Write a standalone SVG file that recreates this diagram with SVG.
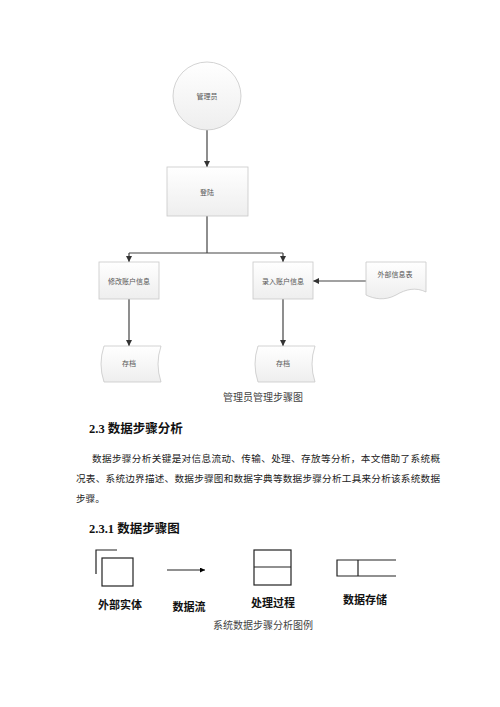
<svg xmlns="http://www.w3.org/2000/svg" width="500" height="707" viewBox="0 0 500 707">
<defs>
<linearGradient id="g" x1="0" y1="0" x2="0" y2="1">
<stop offset="0" stop-color="#ffffff"/>
<stop offset="1" stop-color="#eeeeee"/>
</linearGradient>
<marker id="ah" viewBox="0 0 10 10" refX="10" refY="5" markerWidth="6" markerHeight="6" markerUnits="userSpaceOnUse" orient="auto">
<path d="M0,0 L10,5 L0,10 Z" fill="#333"/>
</marker>
<marker id="ah2" viewBox="0 0 10 10" refX="10" refY="5" markerWidth="5" markerHeight="5" markerUnits="userSpaceOnUse" orient="auto">
<path d="M0,0 L10,5 L0,10 Z" fill="#000"/>
</marker>
</defs>
<style>
.n{fill:url(#g);stroke:#c8c8c8;stroke-width:0.8}
.nt{font-family:"Liberation Serif","Noto Sans CJK SC",serif;font-size:7px;fill:#555;text-anchor:middle}
.c{fill:none;stroke:#444;stroke-width:1.2}
.cap{font-family:"Liberation Serif","Noto Sans CJK SC",serif;font-size:10px;fill:#444;text-anchor:middle}
.h{font-family:"Liberation Serif","Noto Sans CJK SC",serif;font-size:12.5px;font-weight:bold;fill:#111}
.p{font-family:"Liberation Serif","Noto Sans CJK SC",serif;font-size:9.6px;fill:#222}
.lg{fill:none;stroke:#222;stroke-width:1.2}
.lt{font-family:"Liberation Serif","Noto Sans CJK SC",serif;font-size:11px;font-weight:bold;fill:#111;text-anchor:middle}
</style>
<rect width="500" height="707" fill="#fff"/>

<g id="connectors">
<path class="c" d="M207,130 V167" marker-end="url(#ah)"/>
<path class="c" d="M207,216 V253 M129,253 H283"/>
<path class="c" d="M129,253 V262" marker-end="url(#ah)"/>
<path class="c" d="M283,253 V262" marker-end="url(#ah)"/>
<path class="c" d="M366,281 H313" marker-end="url(#ah)"/>
<path class="c" d="M129,299 V346" marker-end="url(#ah)"/>
<path class="c" d="M283,299 V346" marker-end="url(#ah)"/>
</g>

<g id="admin">
<circle class="n" cx="207" cy="96" r="34"/>
<text class="nt" x="207" y="98.5">管理员</text>
</g>
<g id="login">
<rect class="n" x="167" y="167" width="81" height="49"/>
<text class="nt" x="207" y="194.5">登陆</text>
</g>
<g id="modify">
<rect class="n" x="99" y="262" width="60" height="37"/>
<text class="nt" x="129" y="283.5">修改账户信息</text>
</g>
<g id="input">
<rect class="n" x="253" y="262" width="60" height="37"/>
<text class="nt" x="283" y="283.5">录入账户信息</text>
</g>
<g id="external">
<path class="n" d="M366,262 H426 V292 C416,287 406,289 396,295 C385,301 374,299 366,295 Z"/>
<text class="nt" x="395" y="276.5">外部信息表</text>
</g>
<g id="store1">
<path class="n" d="M104,346 H161 Q155,364 161,382 H104 Q98,364 104,346 Z"/>
<text class="nt" x="129" y="365.5">存档</text>
</g>
<g id="store2">
<path class="n" d="M258,346 H315 Q309,364 315,382 H258 Q252,364 258,346 Z"/>
<text class="nt" x="283" y="365.5">存档</text>
</g>

<text class="cap" x="263" y="400.5">管理员管理步骤图</text>

<text class="h" x="89" y="432.5">2.3 数据步骤分析</text>
<text class="p" x="92" y="462" textLength="348" lengthAdjust="spacing">数据步骤分析关键是对信息流动、传输、处理、存放等分析，本文借助了系统概</text>
<text class="p" x="76" y="482" textLength="364" lengthAdjust="spacing">况表、系统边界描述、数据步骤图和数据字典等数据步骤分析工具来分析该系统数据</text>
<text class="p" x="76" y="502">步骤。</text>

<text class="h" x="89" y="532.5">2.3.1 数据步骤图</text>

<g id="legend">
<path class="lg" d="M96,574 V550 H117"/>
<rect class="lg" x="102" y="558" width="31" height="28"/>
<path class="lg" d="M167,570 H205" marker-end="url(#ah2)"/>
<rect class="lg" x="254" y="550" width="37" height="35"/>
<path class="lg" d="M254,567 H291"/>
<path class="lg" d="M396,560 H337 V576 H396 M358,560 V576"/>
<text class="lt" x="120" y="609">外部实体</text>
<text class="lt" x="189" y="611">数据流</text>
<text class="lt" x="273" y="607">处理过程</text>
<text class="lt" x="365" y="604">数据存储</text>
</g>
<text class="cap" x="263" y="629">系统数据步骤分析图例</text>
</svg>
